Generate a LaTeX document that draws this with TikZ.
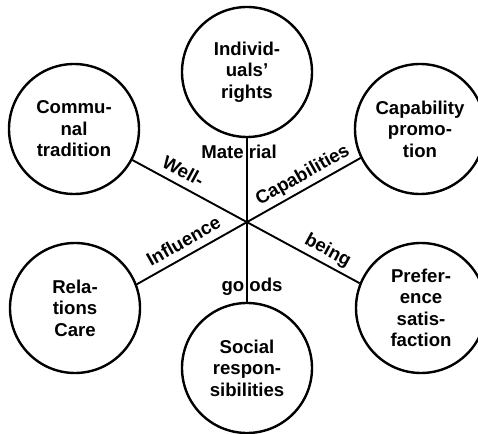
\documentclass[tikz,border=0pt]{standalone}
\usepackage{fontspec}
\setmainfont{Liberation Sans}
\begin{document}
\begin{tikzpicture}[x=1pt, y=1pt,
    value/.style={draw, circle, line width=2.4pt, minimum size=130pt, inner sep=0pt, align=center, font=\fontsize{18.6}{21.5}\selectfont\bfseries},
    link/.style={line width=1.9pt},
    tag/.style={font=\fontsize{18.6}{21.5}\selectfont\bfseries, text height=13.5pt, text depth=3.9pt}]
    \useasboundingbox (0, 0) rectangle (478, 433);
    % the six values
    \node[value] (ind) at (247, 361) {Individ-\\uals’\\rights};
    \node[value] (comm) at (74, 304) {Commu-\\nal\\tradition};
    \node[value] (cap) at (420, 304) {Capability\\promo-\\tion};
    \node[value] (rel) at (75, 125) {Rela-\\tions\\Care};
    \node[value] (pref) at (421, 125) {Prefer-\\ence\\satis-\\faction};
    \node[value] (soc) at (247, 65) {Social\\respon-\\sibilities};
    % the three axes
    \draw[link] (ind.south) -- node[tag, pos=0.093, xshift=-8pt] (mat) {Mate rial} node[tag, pos=0.905, xshift=5pt] (goods) {go ods} (soc.north);
    \draw[link] (comm.-28) -- node[tag, sloped, above, pos=0.193] (well) {Well-} node[tag, sloped, above, pos=0.832] (being) {being} (pref.158);
    \draw[link] (rel.21) -- node[tag, sloped, above, pos=0.241] (infl) {Influence} node[tag, sloped, above, pos=0.771] (capa) {Capabilities} (cap.206);
\end{tikzpicture}
\end{document}
